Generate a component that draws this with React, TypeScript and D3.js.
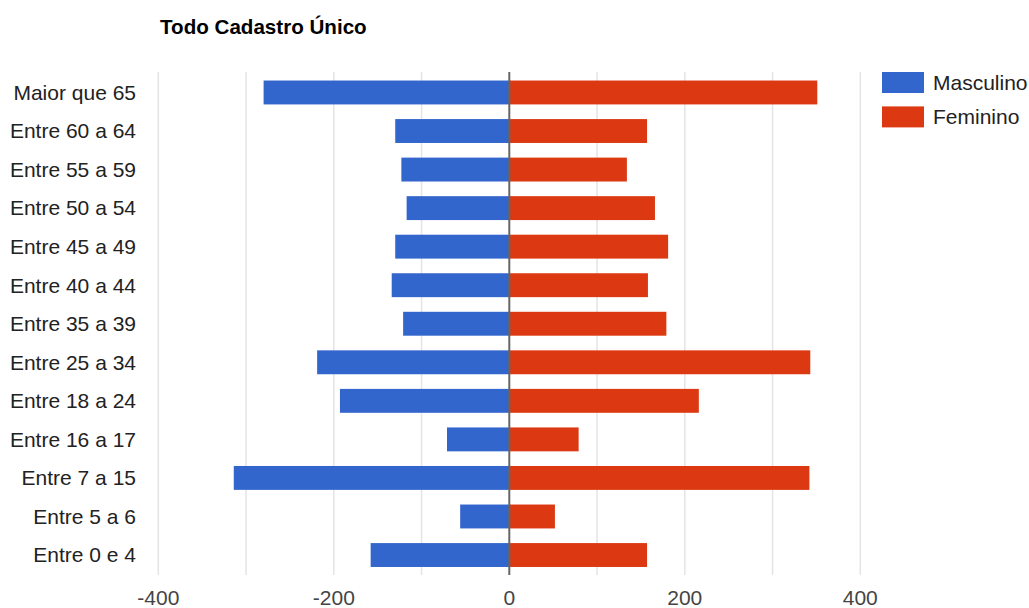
import React from "react";
import * as d3 from "d3";

const categories = [
  "Maior que 65",
  "Entre 60 a 64",
  "Entre 55 a 59",
  "Entre 50 a 54",
  "Entre 45 a 49",
  "Entre 40 a 44",
  "Entre 35 a 39",
  "Entre 25 a 34",
  "Entre 18 a 24",
  "Entre 16 a 17",
  "Entre 7 a 15",
  "Entre 5 a 6",
  "Entre 0 e 4",
];
const masculino = [-280, -130, -123, -117, -130, -134, -121, -219, -193, -71, -314, -56, -158];
const feminino = [351, 157, 134, 166, 181, 158, 179, 343, 216, 79, 342, 52, 157];
const gridTicks = [-400, -300, -200, -100, 0, 100, 200, 300, 400];
const labelTicks = [-400, -200, 0, 200, 400];
const seriesNames = ["Masculino", "Feminino"];
const seriesColors = ["#3366cc", "#dc3912"];

const W = 1029;
const H = 608;
const FONT = "'Liberation Sans', Arial, sans-serif";

export default function App() {
  const x = d3.scaleLinear().domain([-400, 400]).range([158.3, 860.3]);
  const y = d3
    .scaleBand<string>()
    .domain(categories)
    .range([73.2, 574.3])
    .paddingInner(0.38)
    .paddingOuter(0.19);
  const bw = y.bandwidth();

  return (
    <svg
      width={W}
      height={H}
      style={{ position: "absolute", left: 0, top: 0, background: "#fff" }}
      fontFamily={FONT}
    >
      <text x={160} y={34} fontSize={20.6} fontWeight="bold" fill="#000">
        Todo Cadastro Único
      </text>

      {gridTicks.map((t) =>
        t === 0 ? null : (
          <line
            key={t}
            x1={x(t)}
            x2={x(t)}
            y1={72}
            y2={575}
            stroke="#e4e4e4"
            strokeWidth={1.5}
          />
        )
      )}

      {categories.map((c, i) => (
        <g key={c}>
          <rect
            x={x(masculino[i])}
            y={y(c)}
            width={x(0) - x(masculino[i])}
            height={bw}
            fill={seriesColors[0]}
          />
          <rect
            x={x(0)}
            y={y(c)}
            width={x(feminino[i]) - x(0)}
            height={bw}
            fill={seriesColors[1]}
          />
          <text
            x={136}
            y={(y(c) as number) + bw / 2}
            dy="0.35em"
            textAnchor="end"
            fontSize={21}
            fill="#222"
          >
            {c}
          </text>
        </g>
      ))}

      <line x1={x(0)} x2={x(0)} y1={72} y2={575} stroke="#666" strokeWidth={2} />

      {labelTicks.map((t) => (
        <text key={t} x={x(t)} y={605} textAnchor="middle" fontSize={21} fill="#444">
          {t}
        </text>
      ))}

      {seriesNames.map((s, i) => (
        <g key={s} transform={`translate(882,${72 + i * 34.4})`}>
          <rect width={42} height={21} fill={seriesColors[i]} />
          <text x={51} y={10.5} dy="0.35em" fontSize={21} fill="#222">
            {s}
          </text>
        </g>
      ))}
    </svg>
  );
}
